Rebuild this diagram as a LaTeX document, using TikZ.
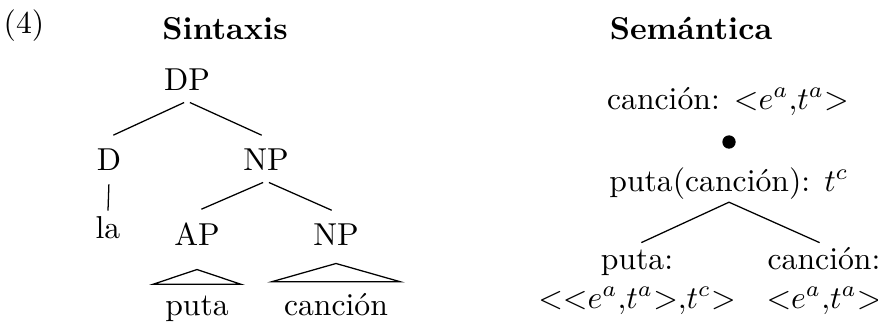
\documentclass[tikz,border=0pt]{standalone}
\usepackage{amsmath, amssymb}
\usepackage{tikz}

\tikzset{
  lab/.style={anchor=base, text depth=0pt},
  leaf/.style={anchor=base, text height=7pt, text depth=0pt, inner ysep=0.5pt},
  branch/.style={shorten <=1pt, shorten >=1.5pt}
}

\begin{document}
\begin{tikzpicture}[x=0.3155pt, y=-0.3155pt]
        % Rėmas
        \useasboundingbox (0,0) rectangle (878,321);

        % Pavadinimai
        \node[lab] (num) at (24, 33) {(4)};
        \node[lab] (sint) at (225, 39) {\textbf{Sintaxis}};
        \node[lab] (sem) at (691, 39) {\textbf{Semántica}};

        % Sintaksinis medis
        \node[lab] (dp) at (187, 90) {DP};
        \node[lab] (d) at (109, 170) {D};
        \node[lab] (np) at (266, 170) {NP};
        \node[lab, inner ysep=1.5pt] (la) at (108, 238) {la};
        \node[lab] (ap) at (197, 245) {AP};
        \node[lab] (npb) at (336, 245) {NP};
        \node[lab] (puta) at (197, 315) {puta};
        \node[lab] (cancion) at (336, 315) {canción};

        \draw[branch] (dp.south) -- (d.north);
        \draw[branch] (dp.south) -- (np.north);
        \draw[shorten <=1pt] (d.south) -- (la.north);
        \draw[branch] (np.south) -- (ap.north);
        \draw[branch] (np.south) -- (npb.north);

        % Trikampiai
        \draw ([yshift=-4.2pt]ap.south) -- ([xshift=-13.9pt]puta.north) -- ([xshift=13.9pt]puta.north) -- cycle;
        \draw ([yshift=-2.3pt]npb.south) -- ([xshift=-20.2pt]cancion.north) -- ([xshift=20.2pt]cancion.north) -- cycle;

        % Semantinis medis
        \node[lab] (top) at (728, 109) {canción: ${<}e^a{,}t^a{>}$};
        \node[circle, fill, inner sep=0pt, minimum size=4.2pt] (comp) at (729, 142) {};
        \node[lab] (pc) at (729, 191) {puta(canción): $t^c$};
        \node[leaf] (fn) at (637, 269) {puta:};
        \node[lab] (fntype) at (637, 308) {${<}{<}e^a{,}t^a{>}{,}t^c{>}$};
        \node[leaf] (arg) at (824, 269) {canción:};
        \node[lab] (argtype) at (824, 308) {${<}e^a{,}t^a{>}$};

        \draw[shorten >=1.5pt] (pc.south) -- (fn.north);
        \draw[shorten >=1.5pt] (pc.south) -- (arg.north);
    \end{tikzpicture}
\end{document}
